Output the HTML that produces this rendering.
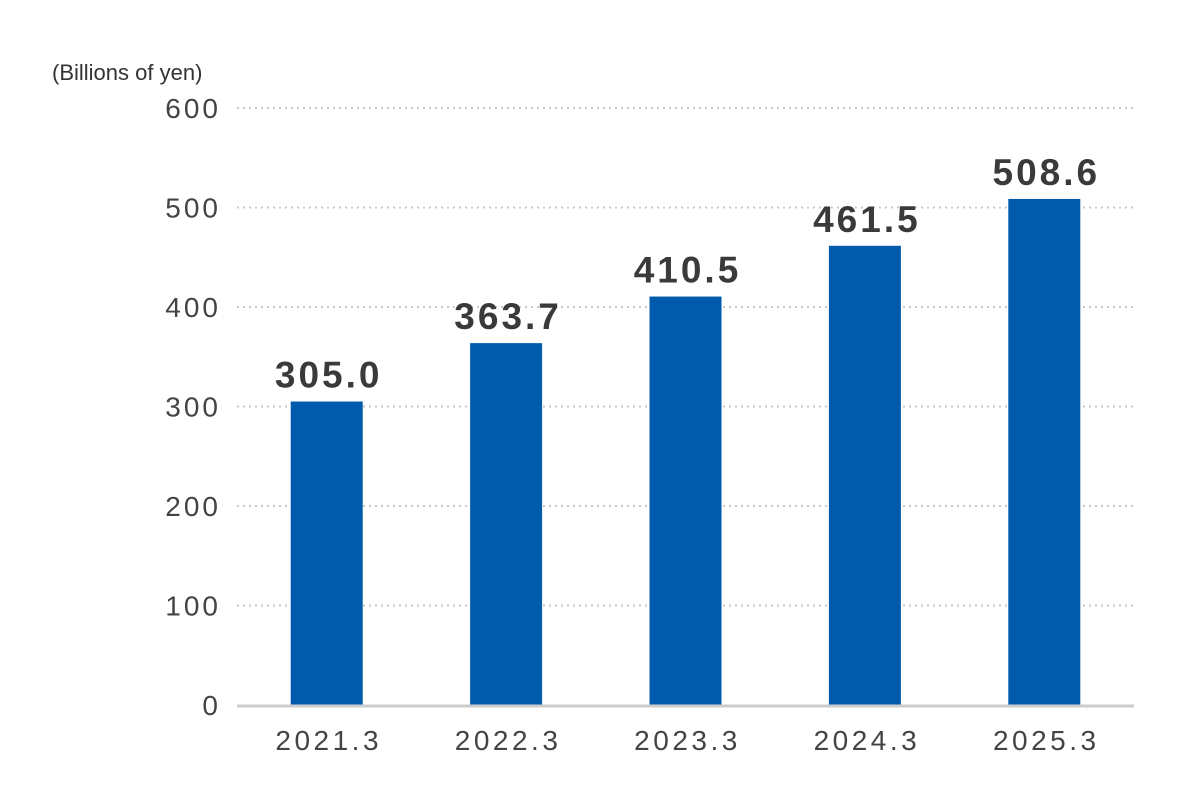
<!DOCTYPE html>
<html><head><meta charset="utf-8"><style>
body{margin:0;background:#fff;}
svg text{font-family:"Liberation Sans",sans-serif;}
</style></head><body>
<svg width="1200" height="787" viewBox="0 0 1200 787" xmlns="http://www.w3.org/2000/svg">
<text x="52" y="80" font-size="22" fill="#333">(Billions of yen)</text>
<g id="grid"></g>
<g id="bars"></g>
<g id="xlabels"></g>
</svg>
<script>
const categories=["2021.3","2022.3","2023.3","2024.3","2025.3"];
const values=[305.0,363.7,410.5,461.5,508.6];
const valueLabels=["305.0","363.7","410.5","461.5","508.6"];
const ticks=[0,100,200,300,400,500,600];
const NS="http://www.w3.org/2000/svg";
const x0=237,x1=1134,y0=705,y1=108,maxV=600;
const yS=v=>y0-(v/maxV)*(y0-y1);
const band=(x1-x0)/categories.length;
const xC=i=>x0+band*(i+0.5);
const g=document.getElementById('grid'),b=document.getElementById('bars'),xl=document.getElementById('xlabels');
function mk(t,a){const e=document.createElementNS(NS,t);for(const k in a)e.setAttribute(k,a[k]);return e;}
ticks.forEach(t=>{
  const y=yS(t);
  if(t>0){const l=mk('line',{x1:x0,x2:x1,y1:y,y2:y,stroke:'#c8c8c8','stroke-width':2,'stroke-dasharray':'2 4'});
  
  
  g.appendChild(l);}
  const tx=mk('text',{x:221,y:y+10,'font-size':28,fill:'#444','text-anchor':'end','letter-spacing':3});
  tx.textContent=t;
  
  
  g.appendChild(tx);
});
categories.forEach((c,i)=>{
  const w=72,y=yS(values[i]);
  const r=mk('rect',{x:xC(i)-w/2,y:y,width:w,height:y0-y,fill:'#005bac'});
  
  
  b.appendChild(r);
  const v=mk('text',{x:xC(i)+2,y:y-14,'font-size':37,'font-weight':'bold',fill:'#3a3a3a','text-anchor':'middle','letter-spacing':3});
  v.textContent=valueLabels[i];
  
  
  b.appendChild(v);
  const t=mk('text',{x:xC(i)+2,y:750,'font-size':28,fill:'#444','text-anchor':'middle','letter-spacing':3.5});
  t.textContent=c;
  
  
  xl.appendChild(t);
});
const base=mk('line',{x1:x0,x2:x1,y1:y0+1,y2:y0+1,stroke:'#cccccc','stroke-width':3});


b.appendChild(base);
</script>
</body></html>
